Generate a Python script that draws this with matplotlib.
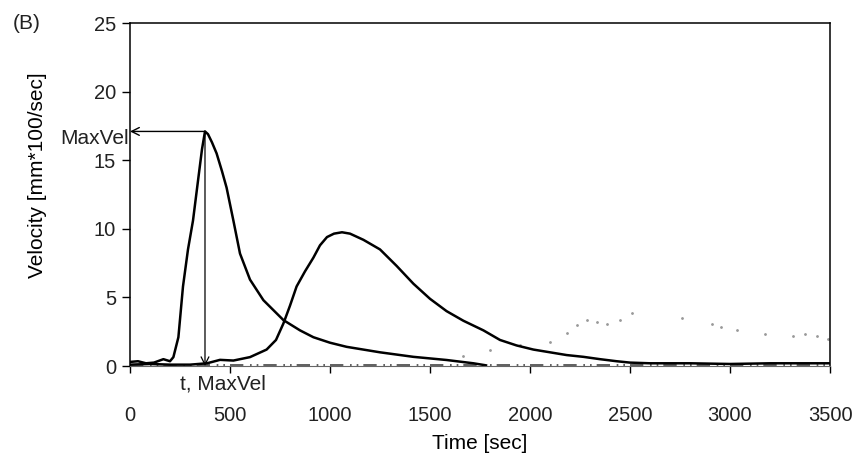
import matplotlib.pyplot as plt

plt.rcParams['font.family'] = ['Liberation Sans', 'DejaVu Sans']
plt.rcParams['text.color'] = '#222222'
plt.rcParams['xtick.labelcolor'] = '#222222'
plt.rcParams['ytick.labelcolor'] = '#222222'

# fast peak
t1 = [0, 40, 80, 120, 167, 200, 217, 242, 265, 290, 315, 340, 360, 375, 390,
      410, 433, 460, 483, 517, 550, 600, 667, 767, 850, 917, 1000, 1083, 1250,
      1417, 1583, 1717, 1780]
v1 = [0.3, 0.35, 0.2, 0.25, 0.5, 0.35, 0.65, 2.1, 5.8, 8.5, 10.6, 13.5, 15.8,
      17.1, 16.9, 16.3, 15.5, 14.2, 13.0, 10.6, 8.2, 6.3, 4.8, 3.35, 2.6, 2.1,
      1.7, 1.4, 1.0, 0.67, 0.44, 0.2, 0.05]

# slow peak
t2 = [0, 100, 200, 300, 385, 450, 517, 600, 683, 730, 767, 800, 833, 875, 917,
      950, 985, 1020, 1060, 1100, 1167, 1250, 1333, 1417, 1500, 1583, 1667,
      1767, 1850, 1933, 2017, 2100, 2183, 2267, 2350, 2433, 2500, 2600, 2800,
      3000, 3200, 3500]
v2 = [0.1, 0.15, 0.1, 0.1, 0.2, 0.45, 0.4, 0.65, 1.2, 1.9, 3.1, 4.4, 5.8, 6.9,
      7.9, 8.8, 9.4, 9.65, 9.75, 9.65, 9.2, 8.5, 7.3, 6.0, 4.9, 4.0, 3.3, 2.6,
      1.9, 1.5, 1.2, 1.0, 0.8, 0.67, 0.5, 0.35, 0.25, 0.2, 0.2, 0.15, 0.2, 0.2]

# faint scattered trace
t3 = [1667, 1800, 1950, 2100, 2183, 2233, 2283, 2333, 2383, 2450, 2508, 2758,
      2908, 2953, 3033, 3175, 3317, 3375, 3433, 3490]
v3 = [0.7, 1.2, 1.5, 1.75, 2.4, 3.0, 3.35, 3.2, 3.1, 3.35, 3.9, 3.5, 3.06,
      2.85, 2.6, 2.3, 2.2, 2.3, 2.2, 2.0]

# baseline trace
t4 = [0, 3500]
v4 = [0.05, 0.05]

max_vel = 17.1
t_max = 375

fig = plt.figure(figsize=(8.62, 4.61), dpi=100)
ax = fig.add_axes([0.1508, 0.206, 0.8121, 0.744])

ax.plot(t4, v4, color='#444444', lw=1.2, ls=(0, (8, 4, 1, 3, 1, 3)))
ax.plot(t3, v3, ls='none', marker='.', ms=2, color='#999999')
ax.plot(t1, v1, color='black', lw=1.8)
ax.plot(t2, v2, color='black', lw=1.8)

# arrows from the peak to both axes
ax.annotate('', xy=(0, max_vel), xytext=(t_max, max_vel),
            arrowprops=dict(arrowstyle='->', color='black', lw=1.0,
                            shrinkA=0, shrinkB=0, mutation_scale=14))
ax.annotate('', xy=(t_max, 0), xytext=(t_max, max_vel),
            arrowprops=dict(arrowstyle='->', color='black', lw=0.9,
                            shrinkA=0, shrinkB=0, mutation_scale=14))
ax.text(-8, 16.6, 'MaxVel', ha='right', va='center', fontsize=15)
ax.text(467, -0.6, 't, MaxVel', ha='center', va='top', fontsize=15)
fig.text(0.015, 0.95, '(B)', ha='left', va='center', fontsize=15)

ax.set_xlim(0, 3500)
ax.set_ylim(0, 25)
ax.set_xticks(range(0, 3501, 500))
ax.set_yticks(range(0, 26, 5))
ax.tick_params(axis='y', direction='out', length=6, width=1, labelsize=14.5,
               pad=4)
ax.tick_params(axis='x', direction='out', length=5, width=1, labelsize=14.5,
               pad=24)
ax.set_xlabel('Time [sec]', fontsize=15, labelpad=6)
ax.set_ylabel('Velocity [mm*100/sec]', fontsize=15)
ax.yaxis.set_label_coords(-0.119, 0.557)

for side in ['left', 'top', 'right']:
    ax.spines[side].set_linewidth(1.1)
ax.spines['bottom'].set_linewidth(0.8)
ax.spines['bottom'].set_color('#666666')

fig.savefig('out.png', dpi=100)
